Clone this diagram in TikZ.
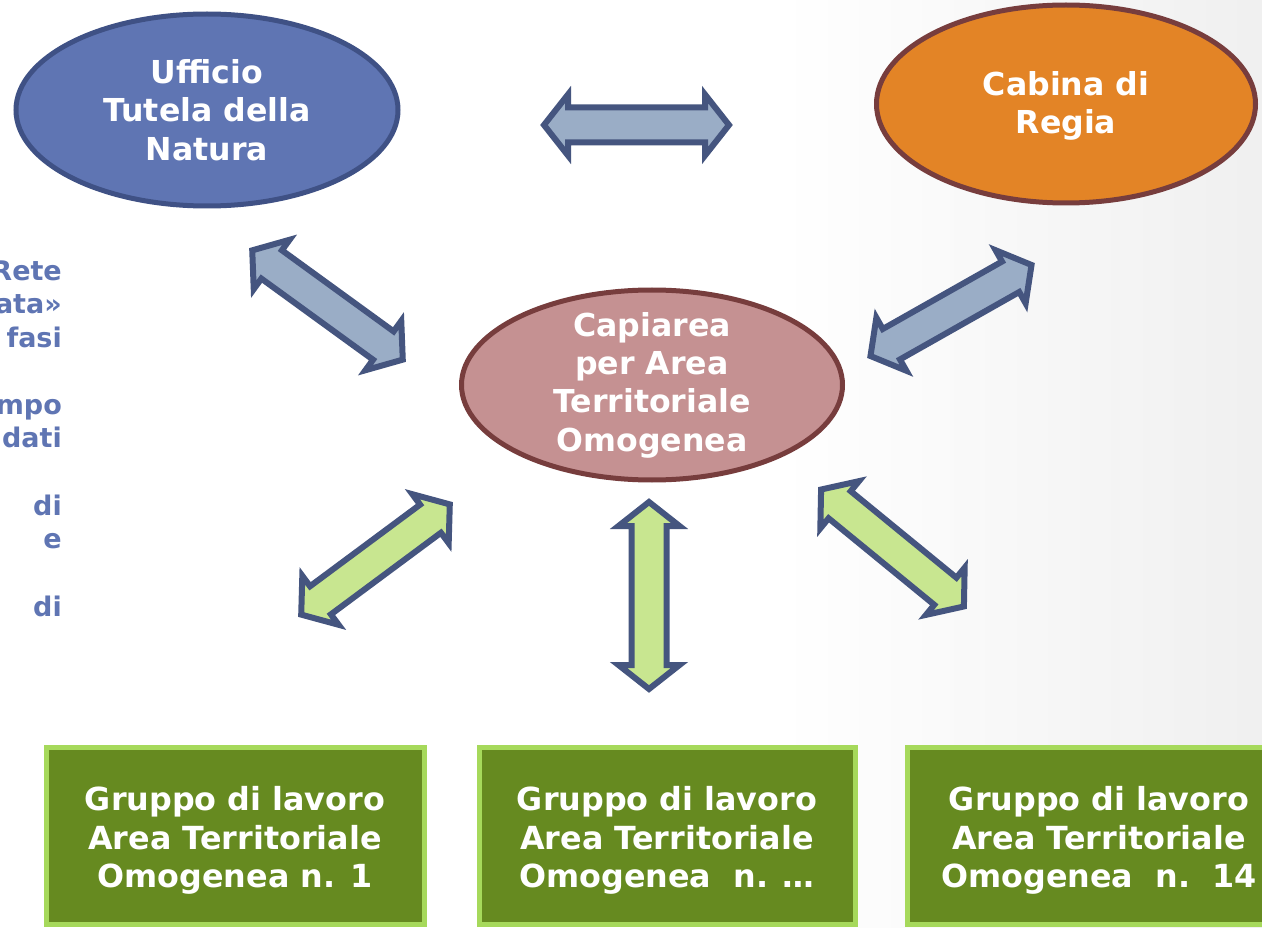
\documentclass[tikz,border=0pt]{standalone}
\usepackage{fontspec}
\setmainfont{DejaVu Sans}
\usetikzlibrary{calc,shapes.geometric}
\definecolor{uffFill}{HTML}{5F75B3}
\definecolor{uffLine}{HTML}{3F5185}
\definecolor{cabFill}{HTML}{E38426}
\definecolor{brownLine}{HTML}{773D3D}
\definecolor{capFill}{HTML}{C59192}
\definecolor{arrLine}{HTML}{45557F}
\definecolor{arrBlue}{HTML}{9AADC6}
\definecolor{arrGreen}{HTML}{C8E690}
\definecolor{boxFill}{HTML}{668A20}
\definecolor{boxLine}{HTML}{A6D95B}
\definecolor{sideText}{HTML}{5F75B3}
\def\arrhl{24pt}
\def\arrhw{30.5pt}
\def\arrsw{17.5pt}
\newcommand\dblarrow[4]{%
  \coordinate (#1-a) at ($#2!4pt!#3$);
  \coordinate (#1-b) at ($#3!4pt!#2$);
  \coordinate (#1-ha) at ($(#1-a)!\arrhl!(#1-b)$);
  \coordinate (#1-hb) at ($(#1-b)!\arrhl!(#1-a)$);
  \draw[#4] (#1-a) -- ($(#1-ha)!\arrhw!90:(#1-b)$) -- ($(#1-ha)!\arrsw!90:(#1-b)$)
    -- ($(#1-hb)!\arrsw!-90:(#1-a)$) -- ($(#1-hb)!\arrhw!-90:(#1-a)$) -- (#1-b)
    -- ($(#1-hb)!\arrhw!90:(#1-a)$) -- ($(#1-hb)!\arrsw!90:(#1-a)$)
    -- ($(#1-ha)!\arrsw!-90:(#1-b)$) -- ($(#1-ha)!\arrhw!-90:(#1-b)$) -- cycle;
}
\begin{document}
\begin{tikzpicture}[x=1pt,y=-1pt,
  oval/.style={ellipse, line width=5pt, inner sep=0pt},
  ovaltext/.style={text=white, align=center, inner sep=0pt,
    font=\fontsize{31.6}{38.3}\selectfont\bfseries},
  gbox/.style={rectangle, draw=boxLine, fill=boxFill, line width=5pt, inner sep=0pt},
  boxtext/.style={text=white, align=center, inner sep=0pt,
    font=\fontsize{31.8}{38.5}\selectfont\bfseries},
  sidetxt/.style={text=sideText, inner sep=0pt, anchor=base east,
    font=\fontsize{27}{33.5}\selectfont\bfseries},
  bluearr/.style={draw=arrLine, fill=arrBlue, line width=6pt, line join=miter},
  greenarr/.style={draw=arrLine, fill=arrGreen, line width=6pt, line join=miter}]
\useasboundingbox (0,0) rectangle (1262,928);
\fill[white] (0,0) rectangle (1262,928);
\shade[left color=white, right color=black!6] (780,0) rectangle (1262,928);

% side text (cut off at left edge)
\node[sidetxt] (s1) at (62,280) {Rete};
\node[sidetxt] (s2) at (62,313.5) {ata»};
\node[sidetxt] (s3) at (62,347) {fasi};
\node[sidetxt] (s4) at (62,414) {mpo};
\node[sidetxt] (s5) at (62,447.5) {dati};
\node[sidetxt] (s6) at (62,515) {di};
\node[sidetxt] (s7) at (62,548.5) {e};
\node[sidetxt] (s8) at (62,616) {di};

% ellipses
\node[oval, draw=uffLine, fill=uffFill, minimum width=382pt, minimum height=192pt] (uff) at (207,110) {};
\node[ovaltext] (uff-t) at (uff.center) {Ufficio\\Tutela della\\Natura};
\node[oval, draw=brownLine, fill=cabFill, minimum width=379pt, minimum height=198pt] (cab) at (1066,104) {};
\node[ovaltext] (cab-t) at ($(cab.center)+(0,2)$) {Cabina di\\Regia};
\node[oval, draw=brownLine, fill=capFill, minimum width=381pt, minimum height=190pt] (cap) at (652,385) {};
\node[ovaltext] (cap-t) at (cap.center) {Capiarea\\per Area\\Territoriale\\Omogenea};

% boxes
\node[gbox, minimum width=378pt, minimum height=177.5pt] (g1) at (235.5,836) {};
\node[boxtext] (g1-t) at (235,840.5) {Gruppo di lavoro\\Area Territoriale\\Omogenea n. 1};
\node[gbox, minimum width=376pt, minimum height=177.5pt] (g2) at (667.5,836) {};
\node[boxtext] (g2-t) at (667,840.5) {Gruppo di lavoro\\Area Territoriale\\Omogenea\ \ n. …};
\node[gbox, minimum width=378pt, minimum height=177.5pt] (g3) at (1096.5,836) {};
\node[boxtext] (g3-t) at (1099,840.5) {Gruppo di lavoro\\Area Territoriale\\Omogenea\ \ n.\ \ 14};

% arrows
\dblarrow{ah}{(540,125)}{(733,125)}{bluearr}
\dblarrow{a1}{(249,248)}{(406,362)}{bluearr}
\dblarrow{a2}{(1035,263)}{(867,358)}{bluearr}
\dblarrow{a3}{(453,502)}{(298,617)}{greenarr}
\dblarrow{a4}{(649,498)}{(649,693)}{greenarr}
\dblarrow{a5}{(818,487)}{(967,609)}{greenarr}
\end{tikzpicture}
\end{document}
